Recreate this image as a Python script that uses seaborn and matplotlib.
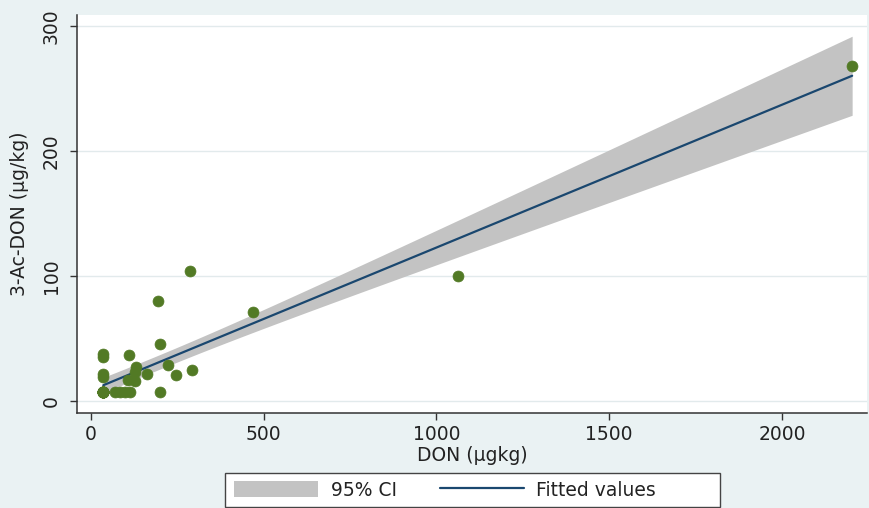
import numpy as np
import pandas as pd
import matplotlib
matplotlib.use("Agg")
import matplotlib.pyplot as plt
import seaborn as sns
from matplotlib.patches import Patch, Rectangle
from matplotlib.lines import Line2D

# Data.
# The marker at (36, 7.5) is a stack of many overlapping observations
# (values below the limit of quantification); 14 are used here.
don = [286, 195, 470, 200, 36, 36, 111, 132, 127, 224, 294, 163, 246,
       36, 36, 108, 127, 69, 84, 98, 113, 200, 1063, 2203] + [36] * 14
ac_don = [104, 80, 71, 45.5, 38, 35, 37, 27.5, 23.5, 28.8, 24.8, 22, 20.8,
          22, 19, 16.8, 16, 7.5, 7.5, 7.5, 7.5, 7.5, 100, 268] + [7.5] * 14
x_ticks = [0, 500, 1000, 1500, 2000]
y_ticks = [0, 100, 200, 300]
x_label = "DON (µgkg)"
y_label = "3-Ac-DON (µg/kg)"
legend_labels = ["95% CI", "Fitted values"]

df = pd.DataFrame({"DON": don, "AcDON": ac_don})

# OLS fit with analytic 95% CI of the mean prediction (as Stata lfitci)
x = df["DON"].to_numpy(float)
y = df["AcDON"].to_numpy(float)
n = len(x)
b1, b0 = np.polyfit(x, y, 1)
resid = y - (b0 + b1 * x)
dof = n - 2
s = np.sqrt(np.sum(resid ** 2) / dof)
xm = x.mean()
sxx = np.sum((x - xm) ** 2)
z = 1.959964
t_crit = z + (z ** 3 + z) / (4 * dof) + (5 * z ** 5 + 16 * z ** 3 + 3 * z) / (96 * dof ** 2)
xf = np.linspace(x.min(), x.max(), 200)
yf = b0 + b1 * xf
se = s * np.sqrt(1.0 / n + (xf - xm) ** 2 / sxx)
fit = pd.DataFrame({"DON": xf, "fit": yf, "lo": yf - t_crit * se, "hi": yf + t_crit * se})

sns.set_theme(style="white")
plt.rcParams["font.family"] = ["DejaVu Sans"]

bg = "#eaf2f3"
green = "#527a25"
navy = "#1a476f"
ci_grey = "#c3c3c3"
txt = "#222222"
FS = 13.5

W, H = 869, 508
fig = plt.figure(figsize=(W / 100, H / 100), dpi=100, facecolor=bg)
ax = fig.add_axes([77 / W, 1 - 413 / H, (867 - 77) / W, (413 - 15) / H])
ax.set_facecolor("white")

for yt in y_ticks:
    ax.axhline(yt, color="#e2eaec", lw=1.0, zorder=0)

ax.fill_between(fit["DON"], fit["lo"], fit["hi"], color=ci_grey, lw=0, zorder=1)
sns.lineplot(data=fit, x="DON", y="fit", color=navy, lw=1.6, ax=ax, zorder=2)
sns.scatterplot(data=df, x="DON", y="AcDON", color=green, s=62, edgecolor=green,
                linewidth=0.5, ax=ax, zorder=3)

ax.set_xlim(-40, 2246)
ax.set_ylim(-9.6, 309)
ax.set_xticks(x_ticks)
ax.set_yticks(y_ticks)
ax.set_xticklabels([str(v) for v in x_ticks], fontsize=FS, color=txt)
ax.set_yticklabels([str(v) for v in y_ticks], fontsize=FS, color=txt,
                   rotation=90, va="center")
ax.tick_params(axis="both", direction="out", length=5, width=1, color="#333333",
               bottom=True, left=True)
ax.tick_params(axis="x", pad=3.5)
ax.tick_params(axis="y", pad=6.5)
ax.set_xlabel(x_label, fontsize=FS, color=txt)
ax.set_ylabel(y_label, fontsize=FS, color=txt)
ax.xaxis.set_label_coords(0.5, (413 - 446) / 398)
ax.yaxis.set_label_coords((29 - 77) / 790, 0.5)

for side in ["top", "right"]:
    ax.spines[side].set_visible(False)
for side in ["left", "bottom"]:
    ax.spines[side].set_color("#333333")
    ax.spines[side].set_linewidth(1.1)

# Legend box (Stata style, wide with equal columns)
fig.patches.append(Rectangle((225 / W, 1 - 507 / H), (720 - 225) / W, (507 - 473) / H,
                             transform=fig.transFigure, facecolor="white",
                             edgecolor="#444444", lw=1.0, zorder=1))
handles = [Patch(facecolor=ci_grey, edgecolor="none"),
           Line2D([0], [0], color=navy, lw=1.6)]
leg = fig.legend(handles, legend_labels, ncol=2, loc="center left",
                 bbox_to_anchor=(234 / W, 1 - 490 / H), frameon=False,
                 fontsize=FS, handlelength=4.5, handleheight=0.96,
                 handletextpad=0.65, columnspacing=2.3, borderpad=0,
                 borderaxespad=0)
for t in leg.get_texts():
    t.set_color(txt)

fig.savefig("out.png", dpi=100, facecolor=bg)
